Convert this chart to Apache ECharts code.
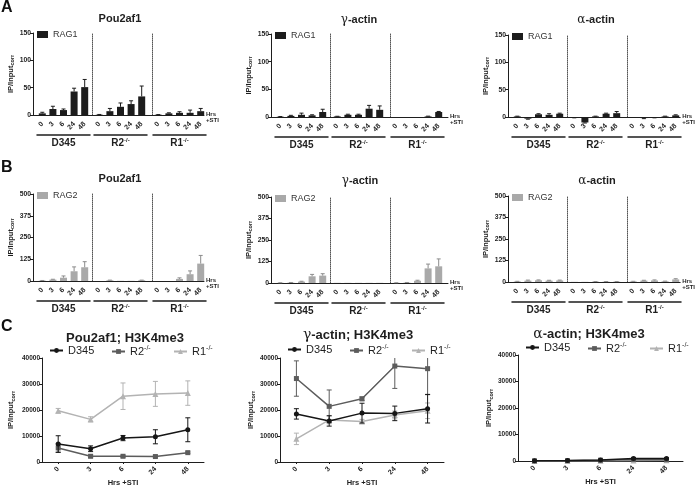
<!DOCTYPE html>
<html><head><meta charset="utf-8">
<script src="https://cdn.jsdelivr.net/npm/echarts@6/dist/echarts.min.js"></script>
<style>html,body{margin:0;padding:0;background:#fff}#c{width:696px;height:489px}</style>
</head><body><div id="c"></div><script>
// ---------- data ----------
const hours = ['0', '3', '6', '24', '48'];
const groupLabels = ['D345', 'R2', 'R1'];
const lineNames = ['D345', 'R2', 'R1'];
const rag1Ticks = [0, 50, 100, 150];
const rag2Ticks = [0, 125, 250, 375, 500];
const h3Ticks = [0, 10000, 20000, 30000, 40000];

// Row A: RAG1 ChIP (D345 x5, R2-/- x5, R1-/- x5)
const rag1Pou    = [3, 11, 9, 43, 51,   0.5, 7, 15, 20, 34,   0.5, 3, 4, 4, 7];
const rag1PouErr = [2, 5, 2, 6, 14,     0.5, 5, 7, 6, 19,     0.3, 1, 2, 5, 5];
const rag1Gam    = [0.5, 2, 4, 3, 9,    1, 4, 4, 15, 13,      0, 0, 0, 1, 9];
const rag1GamErr = [0.3, 1, 3, 1, 5,    0.3, 1, 1, 6, 7,      0, 0, 0, 0.5, 1];
const rag1Alp    = [1, -3, 5, 4, 6,     -1, -10, 1, 6, 7,     0, -2, -1, 1, 3];
const rag1AlpErr = [0.5, 1, 1, 2, 1,    0.5, 1, 0.5, 1, 3,    0, 1, 0.5, 0.5, 1];
// Row B: RAG2 ChIP
const rag2Pou    = [2, 8, 19, 56, 79,   0, 4, 1, 1, 4,        0, 0, 12, 39, 100];
const rag2PouErr = [1, 2, 10, 25, 32,   0, 1, 0, 0, 1,        0, 0, 6, 19, 47];
const rag2Gam    = [1, 2, 8, 39, 43,    1, 1, 1, 1, 1,        1, 2, 13, 85, 97];
const rag2GamErr = [0.5, 1, 2, 11, 11,  0, 0, 0, 0, 0,        0.5, 1, 3, 25, 43];
const rag2Alp    = [3, 8, 10, 8, 9,     1, 1, 2, 2, 2,        3, 8, 9, 4, 15];
const rag2AlpErr = [1, 3, 2, 2, 2,      0, 0, 0.5, 0.5, 0.5,  1, 2, 3, 1, 4];
// Row C: H3K4me3
const h3PouD345 = [6900, 5100, 9200, 9700, 12400];
const h3PouD345Err = [3200, 1100, 1000, 2700, 4600];
const h3PouR2 = [5400, 2200, 2200, 2100, 3600];
const h3PouR2Err = [1600, 500, 400, 300, 300];
const h3PouR1 = [19700, 16400, 25300, 26200, 26500];
const h3PouR1Err = [900, 1000, 5100, 4800, 4700];
const h3GamD345 = [18500, 15800, 18800, 18700, 20500];
const h3GamD345Err = [2000, 2000, 3800, 2800, 5500];
const h3GamR2 = [32100, 21400, 24300, 36900, 35900];
const h3GamR2Err = [6800, 6300, 700, 8600, 10000];
const h3GamR1 = [8900, 16200, 15600, 18100, 19700];
const h3GamR1Err = [2200, 1500, 800, 1500, 3000];
const h3AlpD345 = [100, 200, 400, 900, 900];
const h3AlpD345Err = [50, 50, 100, 200, 200];
const h3AlpR2 = [50, 100, 300, 600, 500];
const h3AlpR2Err = [30, 50, 80, 150, 150];
const h3AlpR1 = [0, 50, 100, 200, 300];
const h3AlpR1Err = [20, 30, 50, 80, 100];

// ---------- styling ----------
const FONT = 'Arial, "Liberation Sans", Helvetica, sans-serif';
const INK = '#1e1e1e';
const RAG1_COLOR = '#1c1c1c';
const RAG2_COLOR = '#a9a9a9';
const LINE_COLORS = ['#161616', '#5c5c5c', '#b3b3b3'];
const SYMBOLS = ['circle', 'rect', 'triangle'];
const plain = v => String(v);

const option = {
  animation: false, backgroundColor: '#ffffff',
  textStyle: { fontFamily: FONT },
  grid: [], xAxis: [], yAxis: [], series: [], legend: [], graphic: []
};

const yNameRich = {
  a: { fontSize: 7.5, fontWeight: 'bold', color: INK, fontFamily: FONT, lineHeight: 10 },
  b: { fontSize: 5.5, fontWeight: 'bold', color: INK, fontFamily: FONT, verticalAlign: 'bottom', lineHeight: 6 }
};
function supRich(size, weight) {
  return {
    n: { fontSize: size, fontWeight: weight, color: INK, fontFamily: FONT, lineHeight: size + 2 },
    s: { fontSize: Math.round(size * 0.6), fontWeight: weight, color: INK, fontFamily: FONT, verticalAlign: 'top', lineHeight: Math.round(size * 0.6) }
  };
}
function supFmt(v) { return v === 'D345' ? '{n|D345}' : '{n|' + v + '}{s|-/-}'; }

function errUp(color, cap) {
  return function (params, api) {
    const i = api.value(0), v = api.value(1), e = api.value(2);
    if (!e) return { type: 'group', children: [] };
    const dir = v < 0 ? -1 : 1;
    const p0 = api.coord([i, v]);
    const p1 = api.coord([i, v + dir * e]);
    const st = { stroke: color, lineWidth: 1 };
    return { type: 'group', children: [
      { type: 'line', shape: { x1: p0[0], y1: p0[1], x2: p1[0], y2: p1[1] }, style: st },
      { type: 'line', shape: { x1: p1[0] - cap / 2, y1: p1[1], x2: p1[0] + cap / 2, y2: p1[1] }, style: st }
    ] };
  };
}
function errBoth(color, cap) {
  return function (params, api) {
    const i = api.value(0), v = api.value(1), e = api.value(2);
    const p0 = api.coord([i, v - e]);
    const p1 = api.coord([i, v + e]);
    const st = { stroke: color, lineWidth: 1 };
    return { type: 'group', children: [
      { type: 'line', shape: { x1: p0[0], y1: p0[1], x2: p1[0], y2: p1[1] }, style: st },
      { type: 'line', shape: { x1: p0[0] - cap / 2, y1: p0[1], x2: p0[0] + cap / 2, y2: p0[1] }, style: st },
      { type: 'line', shape: { x1: p1[0] - cap / 2, y1: p1[1], x2: p1[0] + cap / 2, y2: p1[1] }, style: st }
    ] };
  };
}

function barPanel(c) {
  const h = c.zero - c.top;
  const yRange = { type: 'value', min: c.ticks[0], max: c.ticks[c.ticks.length - 1], interval: c.ticks[1] - c.ticks[0], splitLine: { show: false } };
  const gi = option.grid.push({ left: c.x0, top: c.top, width: c.w, height: h }) - 1;
  option.xAxis.push({
    gridIndex: gi, type: 'category', data: [''],
    axisLine: { onZero: false, lineStyle: { color: INK, width: 1 } }, axisTick: { show: false }, axisLabel: { show: false },
    name: '{a|Hrs}\n{a|+STI}', nameLocation: 'end', nameGap: 2,
    nameTextStyle: { padding: [5, 0, 0, 0], rich: { a: { fontSize: 6, fontWeight: 'bold', color: INK, fontFamily: FONT, lineHeight: 6 } } }
  });
  option.yAxis.push(Object.assign({
    gridIndex: gi,
    axisLine: { show: true, onZero: false, lineStyle: { color: INK } },
    axisTick: { show: true, length: 3, lineStyle: { color: INK } },
    axisLabel: { fontSize: 6.8, fontWeight: 'bold', color: INK, margin: 2, formatter: plain },
    name: '{a|IP/Input}{b|corr}', nameLocation: 'middle', nameGap: c.nameGap, nameRotate: 90,
    nameTextStyle: { rich: yNameRich }
  }, yRange));
  const offs = [4, 61, 120];
  const dotOff = [0, 2, 1];
  for (let g = 0; g < 3; g++) {
    const sg = option.grid.push({ left: c.x0 + offs[g], top: c.top, width: 53, height: h }) - 1;
    const xi = option.xAxis.push({
      gridIndex: sg, type: 'category', data: hours,
      axisLine: { show: false, onZero: false }, axisTick: { show: false },
      axisLabel: { rotate: 45, fontSize: 7, fontWeight: 'bold', color: INK, margin: 8, interval: 0 }
    }) - 1;
    option.xAxis.push({
      gridIndex: sg, type: 'category', data: [groupLabels[g]], position: 'bottom', offset: 20,
      axisLine: { onZero: false, lineStyle: { color: INK, width: 1.5 } }, axisTick: { show: false },
      axisLabel: { margin: 2, formatter: supFmt, rich: supRich(10, 'bold') }
    });
    const yi = option.yAxis.push(Object.assign({
      gridIndex: sg, offset: dotOff[g],
      axisLine: { show: g > 0, onZero: false, lineStyle: { color: '#555', type: 'dotted', width: 1 } },
      axisTick: { show: false }, axisLabel: { show: false }
    }, yRange)) - 1;
    option.series.push({
      type: 'bar', name: c.name, xAxisIndex: xi, yAxisIndex: yi, clip: false,
      data: c.vals.slice(g * 5, g * 5 + 5), barWidth: 7, itemStyle: { color: c.color }
    });
    option.series.push({
      type: 'custom', xAxisIndex: xi, yAxisIndex: yi, clip: false, silent: true, z: 3,
      renderItem: errUp(c.errColor, 4),
      data: hours.map((hh, i) => [i, c.vals[g * 5 + i], c.errs[g * 5 + i]])
    });
  }
  option.legend.push({
    left: c.x0 + 4, top: c.top - 3, padding: 0, data: [c.name], icon: 'rect',
    itemWidth: 11, itemHeight: 7, textStyle: { fontSize: 9, color: '#333', fontFamily: FONT }
  });
}

function linePanel(c) {
  const gi = option.grid.push({ left: c.x0, top: c.top, width: c.w, height: c.zero - c.top }) - 1;
  const xi = option.xAxis.push({
    gridIndex: gi, type: 'category', data: hours, boundaryGap: true,
    axisLine: { onZero: false, lineStyle: { color: INK } },
    axisTick: { show: true, alignWithLabel: true, length: 2, lineStyle: { color: INK } },
    axisLabel: { rotate: 45, fontSize: 7, fontWeight: 'bold', color: INK, margin: 6, interval: 0 },
    name: 'Hrs +STI', nameLocation: 'middle', nameGap: 17,
    nameTextStyle: { fontSize: 7.5, fontWeight: 'bold', color: INK }
  }) - 1;
  const yi = option.yAxis.push({
    gridIndex: gi, type: 'value', min: c.ticks[0], max: c.ticks[c.ticks.length - 1], interval: c.ticks[1] - c.ticks[0],
    splitLine: { show: false },
    axisLine: { show: true, onZero: false, lineStyle: { color: INK } },
    axisTick: { show: true, length: 3, lineStyle: { color: INK } },
    axisLabel: { fontSize: 6.5, fontWeight: 'bold', color: INK, margin: 2, formatter: plain },
    name: '{a|IP/Input}{b|corr}', nameLocation: 'middle', nameGap: c.nameGap, nameRotate: 90,
    nameTextStyle: { rich: yNameRich }
  }) - 1;
  const legOff = [7, 69, 131];
  lineNames.forEach((nm, k) => {
    const col = LINE_COLORS[k];
    option.series.push({
      type: 'line', name: nm, xAxisIndex: xi, yAxisIndex: yi, data: c.data[k],
      symbol: SYMBOLS[k], symbolSize: k === 2 ? 6 : 5, color: col,
      lineStyle: { width: 1.5, color: col }, itemStyle: { color: col }, z: 2 + (2 - k)
    });
    option.series.push({
      type: 'custom', xAxisIndex: xi, yAxisIndex: yi, clip: true, silent: true, z: 2 + (2 - k),
      renderItem: errBoth(col, 5),
      data: hours.map((hh, i) => [i, c.data[k][i], c.errs[k][i]])
    });
    option.legend.push({
      left: c.x0 + legOff[k], top: c.legendTop, padding: 0, data: [nm],
      itemWidth: 13, itemHeight: 6, formatter: supFmt,
      textStyle: { color: '#333', fontFamily: FONT, rich: supRich(11, 'normal') }
    });
  });
}

// ---------- panels ----------
barPanel({ x0: 33, top: 33, zero: 115, w: 171, ticks: rag1Ticks, name: 'RAG1', color: RAG1_COLOR, errColor: RAG1_COLOR, vals: rag1Pou, errs: rag1PouErr, nameGap: 17 });
barPanel({ x0: 271, top: 34, zero: 117, w: 177, ticks: rag1Ticks, name: 'RAG1', color: RAG1_COLOR, errColor: RAG1_COLOR, vals: rag1Gam, errs: rag1GamErr, nameGap: 17 });
barPanel({ x0: 508, top: 35, zero: 117, w: 175, ticks: rag1Ticks, name: 'RAG1', color: RAG1_COLOR, errColor: RAG1_COLOR, vals: rag1Alp, errs: rag1AlpErr, nameGap: 16 });
barPanel({ x0: 33, top: 194, zero: 281, w: 171, ticks: rag2Ticks, name: 'RAG2', color: RAG2_COLOR, errColor: '#8c8c8c', vals: rag2Pou, errs: rag2PouErr, nameGap: 17 });
barPanel({ x0: 271, top: 197, zero: 283, w: 177, ticks: rag2Ticks, name: 'RAG2', color: RAG2_COLOR, errColor: '#8c8c8c', vals: rag2Gam, errs: rag2GamErr, nameGap: 17 });
barPanel({ x0: 508, top: 196, zero: 282, w: 175, ticks: rag2Ticks, name: 'RAG2', color: RAG2_COLOR, errColor: '#8c8c8c', vals: rag2Alp, errs: rag2AlpErr, nameGap: 16 });

linePanel({ x0: 42, top: 358, zero: 462, w: 162, ticks: h3Ticks, nameGap: 26, legendTop: 345,
  data: [h3PouD345, h3PouR2, h3PouR1], errs: [h3PouD345Err, h3PouR2Err, h3PouR1Err] });
linePanel({ x0: 280, top: 358, zero: 462, w: 164, ticks: h3Ticks, nameGap: 18, legendTop: 344,
  data: [h3GamD345, h3GamR2, h3GamR1], errs: [h3GamD345Err, h3GamR2Err, h3GamR1Err] });
linePanel({ x0: 518, top: 355, zero: 461, w: 165, ticks: h3Ticks, nameGap: 17, legendTop: 342,
  data: [h3AlpD345, h3AlpR2, h3AlpR1], errs: [h3AlpD345Err, h3AlpR2Err, h3AlpR1Err] });

// ---------- titles & panel letters ----------
function txt(x, y, text, size, rich) {
  option.graphic.push({ type: 'text', x: x, y: y, silent: true,
    style: { text: text, align: 'center', verticalAlign: 'middle', fontFamily: FONT, fontSize: size, fontWeight: 'bold', fill: INK, rich: rich } });
}
function greekRich(size) {
  return { g: { fontFamily: '"DejaVu Serif", serif', fontWeight: 'normal', fontSize: size + 1, fill: INK },
           t: { fontFamily: FONT, fontWeight: 'bold', fontSize: size, fill: INK } };
}
txt(120, 19, 'Pou2af1', 11);
txt(359, 20, '{g|γ}{t|-actin}', 11, greekRich(11));
txt(596, 20, '{g|α}{t|-actin}', 11, greekRich(11));
txt(120, 179, 'Pou2af1', 11);
txt(360, 181, '{g|γ}{t|-actin}', 11, greekRich(11));
txt(597, 181, '{g|α}{t|-actin}', 11, greekRich(11));
txt(125, 338, 'Pou2af1; H3K4me3', 13);
txt(358, 335, '{g|γ}{t|-actin; H3K4me3}', 13, greekRich(13));
txt(589, 334, '{g|α}{t|-actin; H3K4me3}', 13, greekRich(13));
[['A', 8], ['B', 168], ['C', 327]].forEach(([l, y]) => {
  option.graphic.push({ type: 'text', x: 1, y: y, silent: true,
    style: { text: l, align: 'left', verticalAlign: 'middle', fontFamily: FONT, fontSize: 16, fontWeight: 'bold', fill: '#111' } });
});

const chart = echarts.init(document.getElementById('c'), null, { renderer: 'canvas' });
chart.setOption(option);
</script></body></html>
